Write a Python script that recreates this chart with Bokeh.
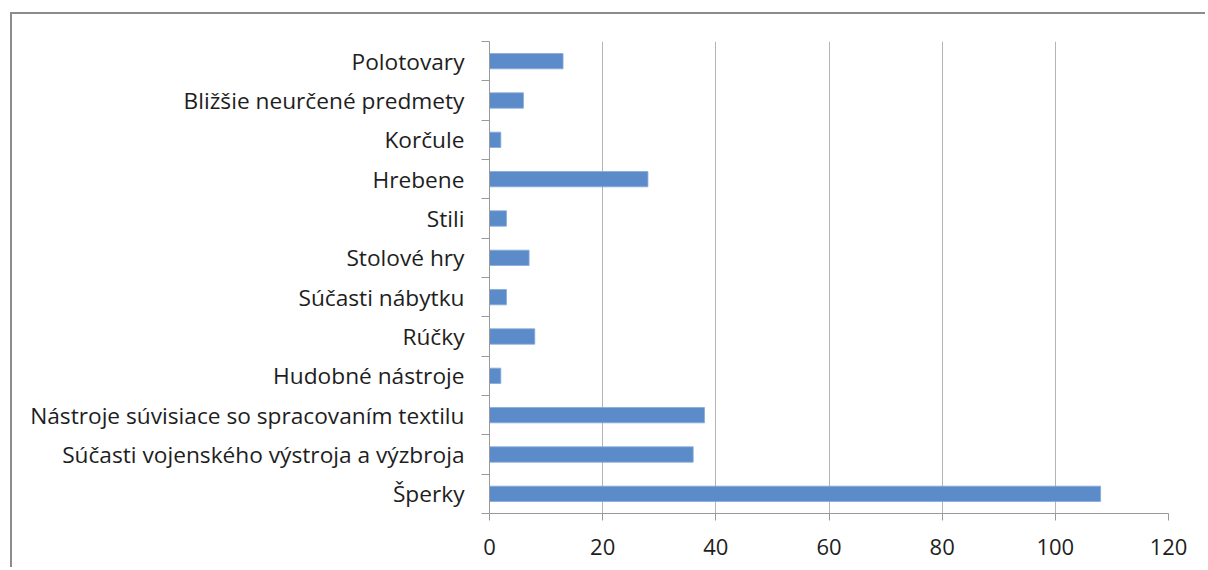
from bokeh.plotting import figure
from bokeh.models import Range1d, LinearAxis, FixedTicker, ColumnDataSource
from bokeh.embed import file_html
from bokeh.resources import INLINE

categories = ["Šperky", "Súčasti vojenského výstroja a výzbroja",
              "Nástroje súvisiace so spracovaním textilu", "Hudobné nástroje",
              "Rúčky", "Súčasti nábytku", "Stolové hry", "Stili", "Hrebene",
              "Korčule", "Bližšie neurčené predmety", "Polotovary"]
values = [108, 36, 38, 2, 8, 3, 7, 3, 28, 2, 6, 13]
x_ticks = [0, 20, 40, 60, 80, 100, 120]

FONT = "Open Sans"
TXT = "#1e1e1e"
GRAY = "#9a9a9a"

n = len(categories)
pos = [i + 0.5 for i in range(n)]
src = ColumnDataSource(dict(y=pos, v=values, name=categories))

p = figure(width=1195, height=555, output_backend="svg", toolbar_location=None,
           x_range=Range1d(0, 120), y_range=Range1d(0, n), y_axis_type=None,
           min_border_left=477, min_border_right=39, min_border_top=27,
           min_border_bottom=56)
p.styles = {"margin-top": "12px", "margin-left": "10px",
            "border-top": "2.5px solid #8c8c8c",
            "border-left": "2.5px solid #8c8c8c"}
p.outline_line_color = None
p.background_fill_color = "white"
p.border_fill_color = "white"

p.hbar(y="y", right="v", left=0, height=0.39, source=src,
       fill_color="#5B8BC8", line_color="#86abd9", line_width=0.8)

# x axis
xa = p.xaxis[0]
xa.ticker = FixedTicker(ticks=x_ticks)
xa.axis_line_color = GRAY
xa.major_tick_line_color = GRAY
xa.major_tick_out = 7
xa.major_tick_in = 0
xa.minor_tick_line_color = None
xa.major_label_text_font = FONT
xa.major_label_text_font_size = "22px"
xa.major_label_text_color = TXT
xa.major_label_standoff = 18

p.xgrid.ticker = FixedTicker(ticks=x_ticks[1:])
p.xgrid.grid_line_color = "#b4b4b4"
p.ygrid.grid_line_color = None

# y axis with ticks between categories
ya = LinearAxis(ticker=FixedTicker(ticks=pos, minor_ticks=list(range(n + 1))))
ya.major_label_overrides = {pp: c for pp, c in zip(pos, categories)}
ya.axis_line_color = GRAY
ya.major_tick_line_color = None
ya.minor_tick_line_color = GRAY
ya.minor_tick_out = 8
ya.minor_tick_in = 0
ya.major_tick_out = 0
ya.major_tick_in = 0
ya.major_label_standoff = 17
ya.major_label_text_font = FONT
ya.major_label_text_font_size = "22.7px"
ya.major_label_text_color = TXT
p.add_layout(ya, "left")

open("out.html", "w").write(file_html(p, INLINE))
